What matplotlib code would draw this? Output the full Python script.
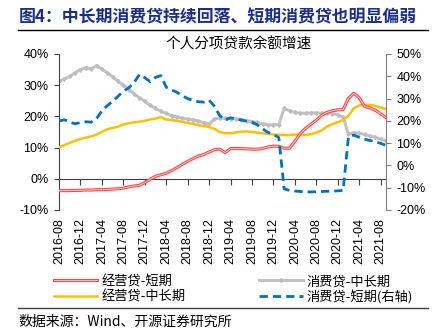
import matplotlib
matplotlib.use('Agg')
import matplotlib.pyplot as plt
import matplotlib.patheffects as pe
from matplotlib.lines import Line2D

plt.rcParams['font.family'] = ['Liberation Sans', 'Noto Sans CJK SC']
plt.rcParams['axes.unicode_minus'] = False

# monthly, 2016-08 .. 2021-09
months = ['2016-08', '2016-09', '2016-10', '2016-11', '2016-12',
          '2017-01', '2017-02', '2017-03', '2017-04', '2017-05', '2017-06',
          '2017-07', '2017-08', '2017-09', '2017-10', '2017-11', '2017-12',
          '2018-01', '2018-02', '2018-03', '2018-04', '2018-05', '2018-06',
          '2018-07', '2018-08', '2018-09', '2018-10', '2018-11', '2018-12',
          '2019-01', '2019-02', '2019-03', '2019-04', '2019-05', '2019-06',
          '2019-07', '2019-08', '2019-09', '2019-10', '2019-11', '2019-12',
          '2020-01', '2020-02', '2020-03', '2020-04', '2020-05', '2020-06',
          '2020-07', '2020-08', '2020-09', '2020-10', '2020-11', '2020-12',
          '2021-01', '2021-02', '2021-03', '2021-04', '2021-05', '2021-06',
          '2021-07', '2021-08', '2021-09']

biz_short = [-3.8, -3.8, -3.8, -3.7, -3.7, -3.6, -3.6, -3.5, -3.5, -3.4, -3.3,
             -3.2, -3.0, -2.6, -2.3, -2.1, -1.2, -0.2, 0.8, 1.3, 1.8, 2.6, 3.6,
             4.6, 5.6, 6.5, 7.3, 7.8, 8.6, 9.3, 9.5, 8.4, 9.7, 9.7, 9.7,
             9.6, 9.5, 9.5, 9.7, 10.2, 10.5, 10.4, 9.8, 9.8, 12.0, 14.5, 16.2,
             17.5, 18.8, 20.3, 21.3, 21.8, 22.1, 22.2, 25.8, 27.4, 26.0, 23.2, 22.7,
             22.0, 20.8, 19.6]

biz_long = [10.1, 10.8, 11.5, 12.2, 12.8, 13.2, 13.6, 14.2, 15.0, 15.9, 16.3,
            16.7, 17.4, 17.8, 18.1, 18.3, 18.6, 19.0, 19.3, 19.8, 19.0, 18.8, 18.6,
            18.3, 17.9, 17.6, 17.2, 16.9, 16.6, 16.0, 15.0, 14.6, 14.6, 14.9, 15.1,
            15.2, 15.0, 14.8, 14.6, 14.4, 14.2, 14.1, 14.0, 14.0, 14.2, 14.1, 14.0,
            14.3, 14.8, 15.5, 16.8, 17.5, 18.2, 18.8, 20.2, 22.6, 23.5, 23.7, 23.7,
            23.4, 22.9, 22.3]

con_long = [31.2, 32.0, 32.8, 34.0, 35.0, 35.6, 35.2, 36.3, 35.2, 34.0, 32.7,
            31.3, 30.0, 28.6, 27.2, 26.0, 24.8, 23.6, 22.6, 21.6, 21.0, 20.2, 19.8,
            19.4, 19.1, 18.9, 18.5, 18.0, 17.5, 19.2, 19.4, 19.4, 19.3, 19.2, 19.0,
            18.6, 18.3, 18.1, 17.6, 17.3, 17.3, 17.4, 22.6, 21.8, 21.3, 21.0, 21.0,
            21.1, 21.1, 21.0, 21.1, 20.9, 20.5, 19.8, 14.2, 14.8, 14.6, 14.2, 13.7,
            13.3, 12.7, 12.2]

con_short = [19.9, 20.5, 19.4, 18.7, 19.2, 19.6, 19.4, 21.0, 24.5, 26.8, 28.8,
             31.0, 33.3, 34.8, 37.2, 40.8, 39.4, 37.6, 39.5, 40.3, 35.1, 33.9, 32.8,
             31.3, 30.0, 29.2, 28.6, 28.4, 29.3, 26.5, 22.3, 20.3, 21.4, 20.8, 20.4,
             19.8, 19.4, 18.2, 16.4, 14.8, 13.9, 12.5, -10.5, -11.2, -11.5, -11.7, -11.8,
             -11.9, -11.8, -11.7, -11.6, -11.5, -11.4, -11.2, 13.0, 13.6, 12.6, 11.8, 11.2,
             10.6, 9.9, 9.0]

tick_idx = list(range(0, len(months), 4))
tick_lbl = [months[i] for i in tick_idx]
x = list(range(len(months)))

fig = plt.figure(figsize=(4.36, 3.33), dpi=100)
ax = fig.add_axes([59/436, 1-210/333, 327/436, 156/333])
ax2 = ax.twinx()

red_fx = [pe.Stroke(linewidth=2.2, foreground='#FF3B3B'), pe.Normal()]
l1, = ax.plot(x, biz_short, color='#FFC4C4', lw=0.8, path_effects=red_fx,
              label='经营贷-短期', zorder=4)
l2, = ax.plot(x, biz_long, color='#FFC000', lw=1.8, label='经营贷-中长期', zorder=3)
l3, = ax.plot(x, con_long, color='#C3C3C3', lw=2.2, marker='d', ms=2.0,
              mec='#BDBDBD', mfc='#BDBDBD', label='消费贷-中长期', zorder=2)
l4, = ax2.plot(x, con_short, color='#0070C0', lw=2.0, dashes=(3, 1.8),
               label='消费贷-短期(右轴)')

ax.set_xlim(0, len(months) - 1)
ax.set_ylim(-10, 40)
ax.set_yticks([-10, 0, 10, 20, 30, 40])
ax.set_yticklabels([f'{v}%' for v in [-10, 0, 10, 20, 30, 40]])
ax2.set_ylim(-20, 50)
ax2.set_yticks(range(-20, 51, 10))
ax2.set_yticklabels([f'{v}%' for v in range(-20, 51, 10)])

for a in (ax, ax2):
    a.spines['top'].set_visible(False)
    a.tick_params(labelsize=9, length=3.5, width=0.8, pad=4)
ax.spines['right'].set_visible(False)
ax2.spines['bottom'].set_visible(False)
ax2.spines['left'].set_visible(False)
ax.spines['left'].set_color('#404040')
ax2.spines['right'].set_color('#808080')
ax2.tick_params(axis='y', colors='#808080', labelcolor='black')
ax.tick_params(axis='y', colors='#404040', labelcolor='black')

# x axis line through zero, labels at bottom
ax.spines['bottom'].set_position(('data', 0))
ax.spines['bottom'].set_color('#404040')
ax.set_xticks(tick_idx)
ax.tick_params(axis='x', labelbottom=False, colors='#404040', length=4)
sec = ax.secondary_xaxis(0)
sec.set_xticks(tick_idx)
sec.set_xticklabels(tick_lbl, rotation=90)
sec.tick_params(length=0, labelsize=9, pad=6)
sec.spines['bottom'].set_visible(False)

fig.legend(handles=[l1, l2, l3, l4], ncol=2, loc='center left',
           bbox_to_anchor=(47/436, 1-289.5/333), frameon=False,
           handlelength=3.3, handletextpad=0.3,
           columnspacing=5.6, labelspacing=0.15, borderpad=0,
           prop={'family': ['Noto Sans CJK SC', 'DejaVu Sans'], 'size': 9.5})

fig.text(19/436, 1-17/333, '图4：中长期消费贷持续回落、短期消费贷也明显偏弱',
         fontsize=12.2, fontweight='bold', color='#1C2E8C', va='center',
         family=['Noto Sans CJK SC', 'DejaVu Sans'])
fig.add_artist(Line2D([18/436, 428/436], [1-30/333, 1-30/333], color='black', lw=1))
fig.text(239/436, 1-45/333, '个人分项贷款余额增速', fontsize=10.5, ha='center',
         va='center', family=['Noto Sans CJK SC', 'DejaVu Sans'])
fig.add_artist(Line2D([18/436, 428/436], [1-308/333, 1-308/333], color='#404040', lw=1))
fig.text(18/436, 1-322/333, '数据来源：Wind、开源证券研究所', fontsize=10,
         va='center', family=['Noto Sans CJK SC', 'DejaVu Sans'])

fig.savefig('out.png', dpi=100)
